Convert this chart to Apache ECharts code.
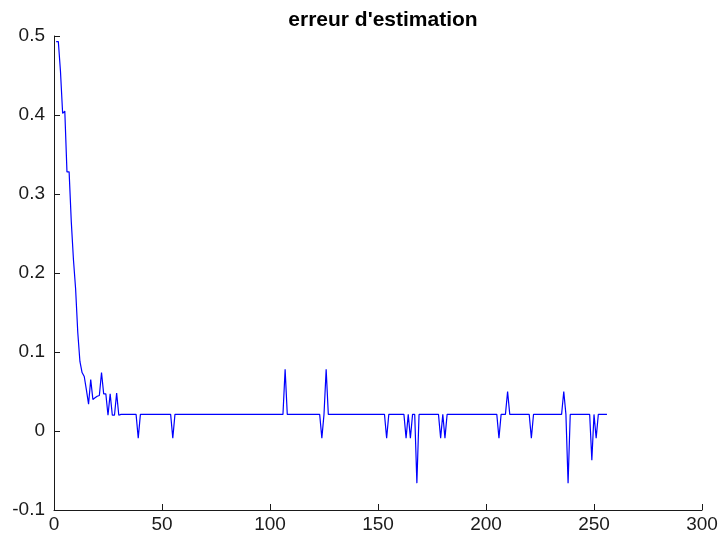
<!DOCTYPE html>
<html>
<head>
<meta charset="utf-8">
<script src="https://cdn.jsdelivr.net/npm/echarts@6/dist/echarts.min.js"></script>
<style>
  html, body { margin: 0; padding: 0; background: #fff; }
  #chart { width: 721px; height: 539px; }
</style>
</head>
<body>
<div id="chart"></div>
<script>
// Estimation error per iteration (iterations 1..256)
const errorValues = [
  0.493, 0.493, 0.455, 0.402, 0.405, 0.328, 0.328, 0.265, 0.217, 0.180,
  0.125, 0.088, 0.074, 0.069, 0.052, 0.034, 0.065, 0.040, 0.042, 0.044,
  0.045, 0.074, 0.047, 0.047, 0.020, 0.047, 0.020, 0.020, 0.048, 0.020,
  0.021, 0.021, 0.021, 0.021, 0.021, 0.021, 0.021, 0.021, -0.009, 0.021,
  0.021, 0.021, 0.021, 0.021, 0.021, 0.021, 0.021, 0.021, 0.021, 0.021,
  0.021, 0.021, 0.021, 0.021, -0.009, 0.021, 0.021, 0.021, 0.021, 0.021,
  0.021, 0.021, 0.021, 0.021, 0.021, 0.021, 0.021, 0.021, 0.021, 0.021,
  0.021, 0.021, 0.021, 0.021, 0.021, 0.021, 0.021, 0.021, 0.021, 0.021,
  0.021, 0.021, 0.021, 0.021, 0.021, 0.021, 0.021, 0.021, 0.021, 0.021,
  0.021, 0.021, 0.021, 0.021, 0.021, 0.021, 0.021, 0.021, 0.021, 0.021,
  0.021, 0.021, 0.021, 0.021, 0.021, 0.021, 0.078, 0.021, 0.021, 0.021,
  0.021, 0.021, 0.021, 0.021, 0.021, 0.021, 0.021, 0.021, 0.021, 0.021,
  0.021, 0.021, 0.021, -0.009, 0.021, 0.078, 0.021, 0.021, 0.021, 0.021,
  0.021, 0.021, 0.021, 0.021, 0.021, 0.021, 0.021, 0.021, 0.021, 0.021,
  0.021, 0.021, 0.021, 0.021, 0.021, 0.021, 0.021, 0.021, 0.021, 0.021,
  0.021, 0.021, 0.021, -0.009, 0.021, 0.021, 0.021, 0.021, 0.021, 0.021,
  0.021, 0.021, -0.009, 0.021, -0.009, 0.021, 0.021, -0.066, 0.021, 0.021,
  0.021, 0.021, 0.021, 0.021, 0.021, 0.021, 0.021, 0.021, -0.009, 0.021,
  -0.009, 0.021, 0.021, 0.021, 0.021, 0.021, 0.021, 0.021, 0.021, 0.021,
  0.021, 0.021, 0.021, 0.021, 0.021, 0.021, 0.021, 0.021, 0.021, 0.021,
  0.021, 0.021, 0.021, 0.021, 0.021, -0.009, 0.021, 0.021, 0.021, 0.050,
  0.021, 0.021, 0.021, 0.021, 0.021, 0.021, 0.021, 0.021, 0.021, 0.021,
  -0.009, 0.021, 0.021, 0.021, 0.021, 0.021, 0.021, 0.021, 0.021, 0.021,
  0.021, 0.021, 0.021, 0.021, 0.021, 0.050, 0.021, -0.066, 0.021, 0.021,
  0.021, 0.021, 0.021, 0.021, 0.021, 0.021, 0.021, 0.021, -0.037, 0.021,
  -0.009, 0.021, 0.021, 0.021, 0.021, 0.021
];

// Axis ranges and tick spacing
const xRange = [0, 300];
const xStep = 50;
const yRange = [-0.1, 0.5];
const yStep = 0.1;

const chartTitle = "erreur d'estimation";

const seriesData = errorValues.map((v, i) => [i + 1, v]);

const fontFamily = "'Liberation Sans', Arial, Helvetica, sans-serif";
const axisColor = '#1a1a1a';

const chart = echarts.init(document.getElementById('chart'), null, { renderer: 'canvas' });

chart.setOption({
  animation: false,
  backgroundColor: '#ffffff',
  title: {
    text: chartTitle,
    left: 378,
    top: 5,
    textAlign: 'center',
    textStyle: {
      fontFamily: fontFamily,
      fontSize: 21,
      fontWeight: 'bold',
      color: '#000000'
    }
  },
  grid: {
    left: 54,
    right: 19,
    top: 36,
    bottom: 29,
    containLabel: false
  },
  xAxis: {
    type: 'value',
    min: xRange[0],
    max: xRange[1],
    interval: xStep,
    axisLine: { show: true, onZero: false, lineStyle: { color: axisColor, width: 1 } },
    axisTick: { show: true, inside: true, length: 6, lineStyle: { color: axisColor } },
    axisLabel: {
      margin: 5,
      fontFamily: fontFamily,
      fontSize: 19,
      color: axisColor
    },
    splitLine: { show: false }
  },
  yAxis: {
    type: 'value',
    min: yRange[0],
    max: yRange[1],
    interval: yStep,
    axisLine: { show: true, onZero: false, lineStyle: { color: axisColor, width: 1 } },
    axisTick: { show: true, inside: true, length: 6, lineStyle: { color: axisColor } },
    axisLabel: {
      margin: 9,
      fontFamily: fontFamily,
      fontSize: 19,
      color: axisColor,
      formatter: function (v) { return String(Math.round(v * 10) / 10); }
    },
    splitLine: { show: false }
  },
  series: [{
    type: 'line',
    data: seriesData,
    showSymbol: false,
    symbol: 'none',
    lineStyle: { color: '#0000ff', width: 1.2 },
    emphasis: { disabled: true }
  }]
});
</script>
</body>
</html>
